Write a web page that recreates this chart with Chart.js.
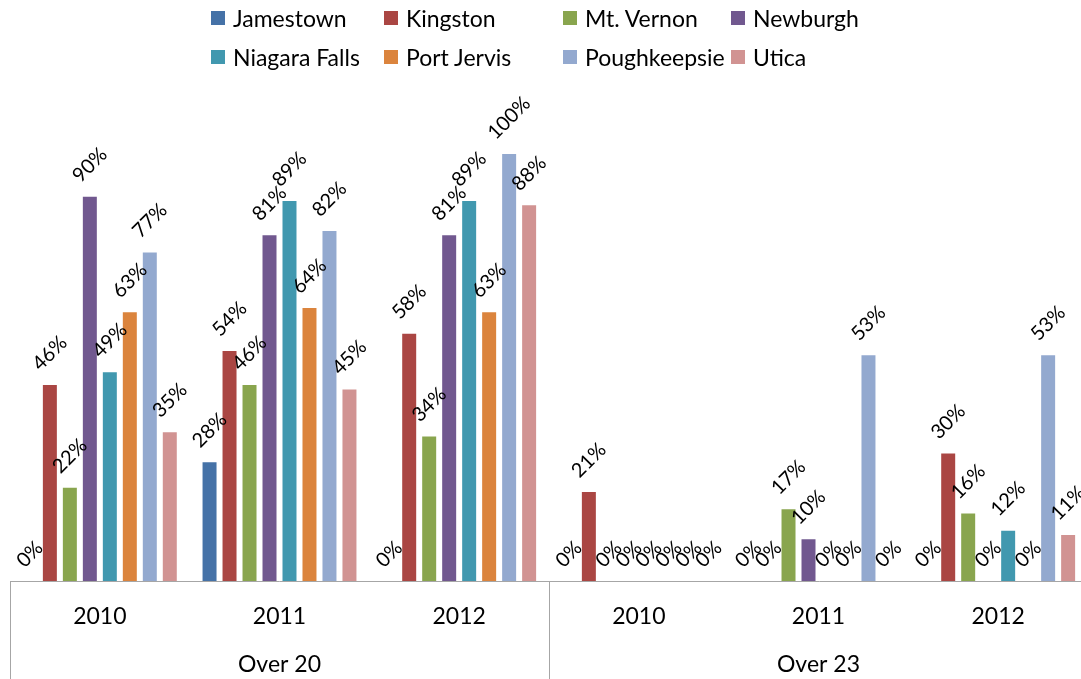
<!DOCTYPE html>
<html>
<head>
<meta charset="utf-8">
<script src="https://cdn.jsdelivr.net/npm/chart.js@4.4.1/dist/chart.umd.min.js"></script>
<style>
    body { margin: 0; overflow: hidden; background: #fff; }
    #contenedor { position: relative; width: 1100px; height: 679px; }
    #leyenda { position: absolute; left: 0; top: 0; width: 1100px; height: 80px; font-family: Lato, "Open Sans", sans-serif; font-size: 23px; color: #000; }
    .item { position: absolute; white-space: nowrap; }
    .caja { position: absolute; left: 0; width: 14px; height: 14px; }
    .texto { position: absolute; left: 22px; top: 0; line-height: 1; }
</style>
</head>
<body>
<div id="contenedor">
    <canvas id="grafico" width="1100" height="679"></canvas>
    <div id="leyenda"></div>
</div>
<script>
const anios = ["2010", "2011", "2012", "2010", "2011", "2012"];
const grupos = ["Over 20", "Over 23"];

const ciudades = ["Jamestown", "Kingston", "Mt. Vernon", "Newburgh", "Niagara Falls", "Port Jervis", "Poughkeepsie", "Utica"];
const colores = ["#4572A7", "#AA4643", "#89A54E", "#71588F", "#4198AF", "#DB843D", "#93A9CF", "#D19392"];

// porcentajes por ciudad: Over 20 (2010, 2011, 2012), Over 23 (2010, 2011, 2012)
const jamestown    = [0, 28, 0, 0, 0, 0];
const kingston     = [46, 54, 58, 21, 0, 30];
const mtVernon     = [22, 46, 34, 0, 17, 16];
const newburgh     = [90, 81, 81, 0, 10, 0];
const niagaraFalls = [49, 89, 89, 0, 0, 12];
const portJervis   = [63, 64, 63, 0, 0, 0];
const poughkeepsie = [77, 82, 100, 0, 53, 53];
const utica        = [35, 45, 88, 0, 0, 11];

const series = [jamestown, kingston, mtVernon, newburgh, niagaraFalls, portJervis, poughkeepsie, utica];

const fuente = "Lato, 'Open Sans', sans-serif";
const gris = "#a6a6a6";

// leyenda en dos filas de cuatro columnas
const columnasX = [211, 384, 563, 731];
const filasY = [7, 46];
const leyenda = document.getElementById("leyenda");
ciudades.forEach((nombre, i) => {
    const item = document.createElement("div");
    item.className = "item";
    item.style.left = columnasX[i % 4] + "px";
    item.style.top = filasY[Math.floor(i / 4)] + "px";
    item.innerHTML = '<span class="caja" style="background:' + colores[i] + ';top:4px"></span><span class="texto">' + nombre + '</span>';
    leyenda.appendChild(item);
});

// etiquetas de porcentaje giradas sobre cada barra
const etiquetas = {
    id: "etiquetas",
    afterDatasetsDraw(chart) {
        const ctx = chart.ctx;
        ctx.save();
        ctx.font = "20px " + fuente;
        ctx.fillStyle = "#000";
        ctx.textAlign = "center";
        ctx.textBaseline = "middle";
        chart.data.datasets.forEach((ds, i) => {
            chart.getDatasetMeta(i).data.forEach((bar, j) => {
                const txt = ds.data[j] + "%";
                const w = ctx.measureText(txt).width;
                const d = (w + 14) / (2 * Math.SQRT2) + 12;
                ctx.save();
                ctx.translate(bar.x, bar.y - d);
                ctx.rotate(-Math.PI / 4);
                ctx.fillText(txt, 0, 0);
                ctx.restore();
            });
        });
        ctx.restore();
    }
};

// separadores de grupo y nombres de grupo bajo los años
const tablaEje = {
    id: "tablaEje",
    afterDraw(chart) {
        const ctx = chart.ctx;
        const x = chart.scales.x;
        const area = chart.chartArea;
        const alto = chart.height;
        ctx.save();
        ctx.strokeStyle = gris;
        ctx.lineWidth = 1;
        const mitad = (x.getPixelForValue(2) + x.getPixelForValue(3)) / 2;
        [area.left, mitad, area.right].forEach(px => {
            ctx.beginPath();
            ctx.moveTo(Math.round(px) + 0.5, area.bottom);
            ctx.lineTo(Math.round(px) + 0.5, alto);
            ctx.stroke();
        });
        ctx.font = "23px " + fuente;
        ctx.fillStyle = "#000";
        ctx.textAlign = "center";
        ctx.textBaseline = "middle";
        grupos.forEach((g, k) => {
            ctx.fillText(g, x.getPixelForValue(k * 3 + 1), 665);
        });
        ctx.restore();
    }
};

new Chart(document.getElementById("grafico"), {
    type: "bar",
    data: {
        labels: anios,
        datasets: series.map((datos, i) => ({
            label: ciudades[i],
            data: datos,
            backgroundColor: colores[i],
            borderColor: "rgba(255,255,255,0.35)",
            borderWidth: 1,
            categoryPercentage: 0.89,
            barPercentage: 0.8
        }))
    },
    options: {
        responsive: false,
        animation: false,
        layout: { padding: { left: 10, right: 12, top: 153, bottom: 0 } },
        plugins: {
            legend: { display: false },
            tooltip: { enabled: false }
        },
        scales: {
            y: { display: false, min: 0, max: 100 },
            x: {
                grid: { display: false, drawTicks: false },
                border: { color: gris, width: 1 },
                ticks: { color: "#000", font: { family: fuente, size: 23 }, padding: 22, maxRotation: 0 },
                afterFit(scale) { scale.height = 98; }
            }
        }
    },
    plugins: [etiquetas, tablaEje]
});
</script>
</body>
</html>
